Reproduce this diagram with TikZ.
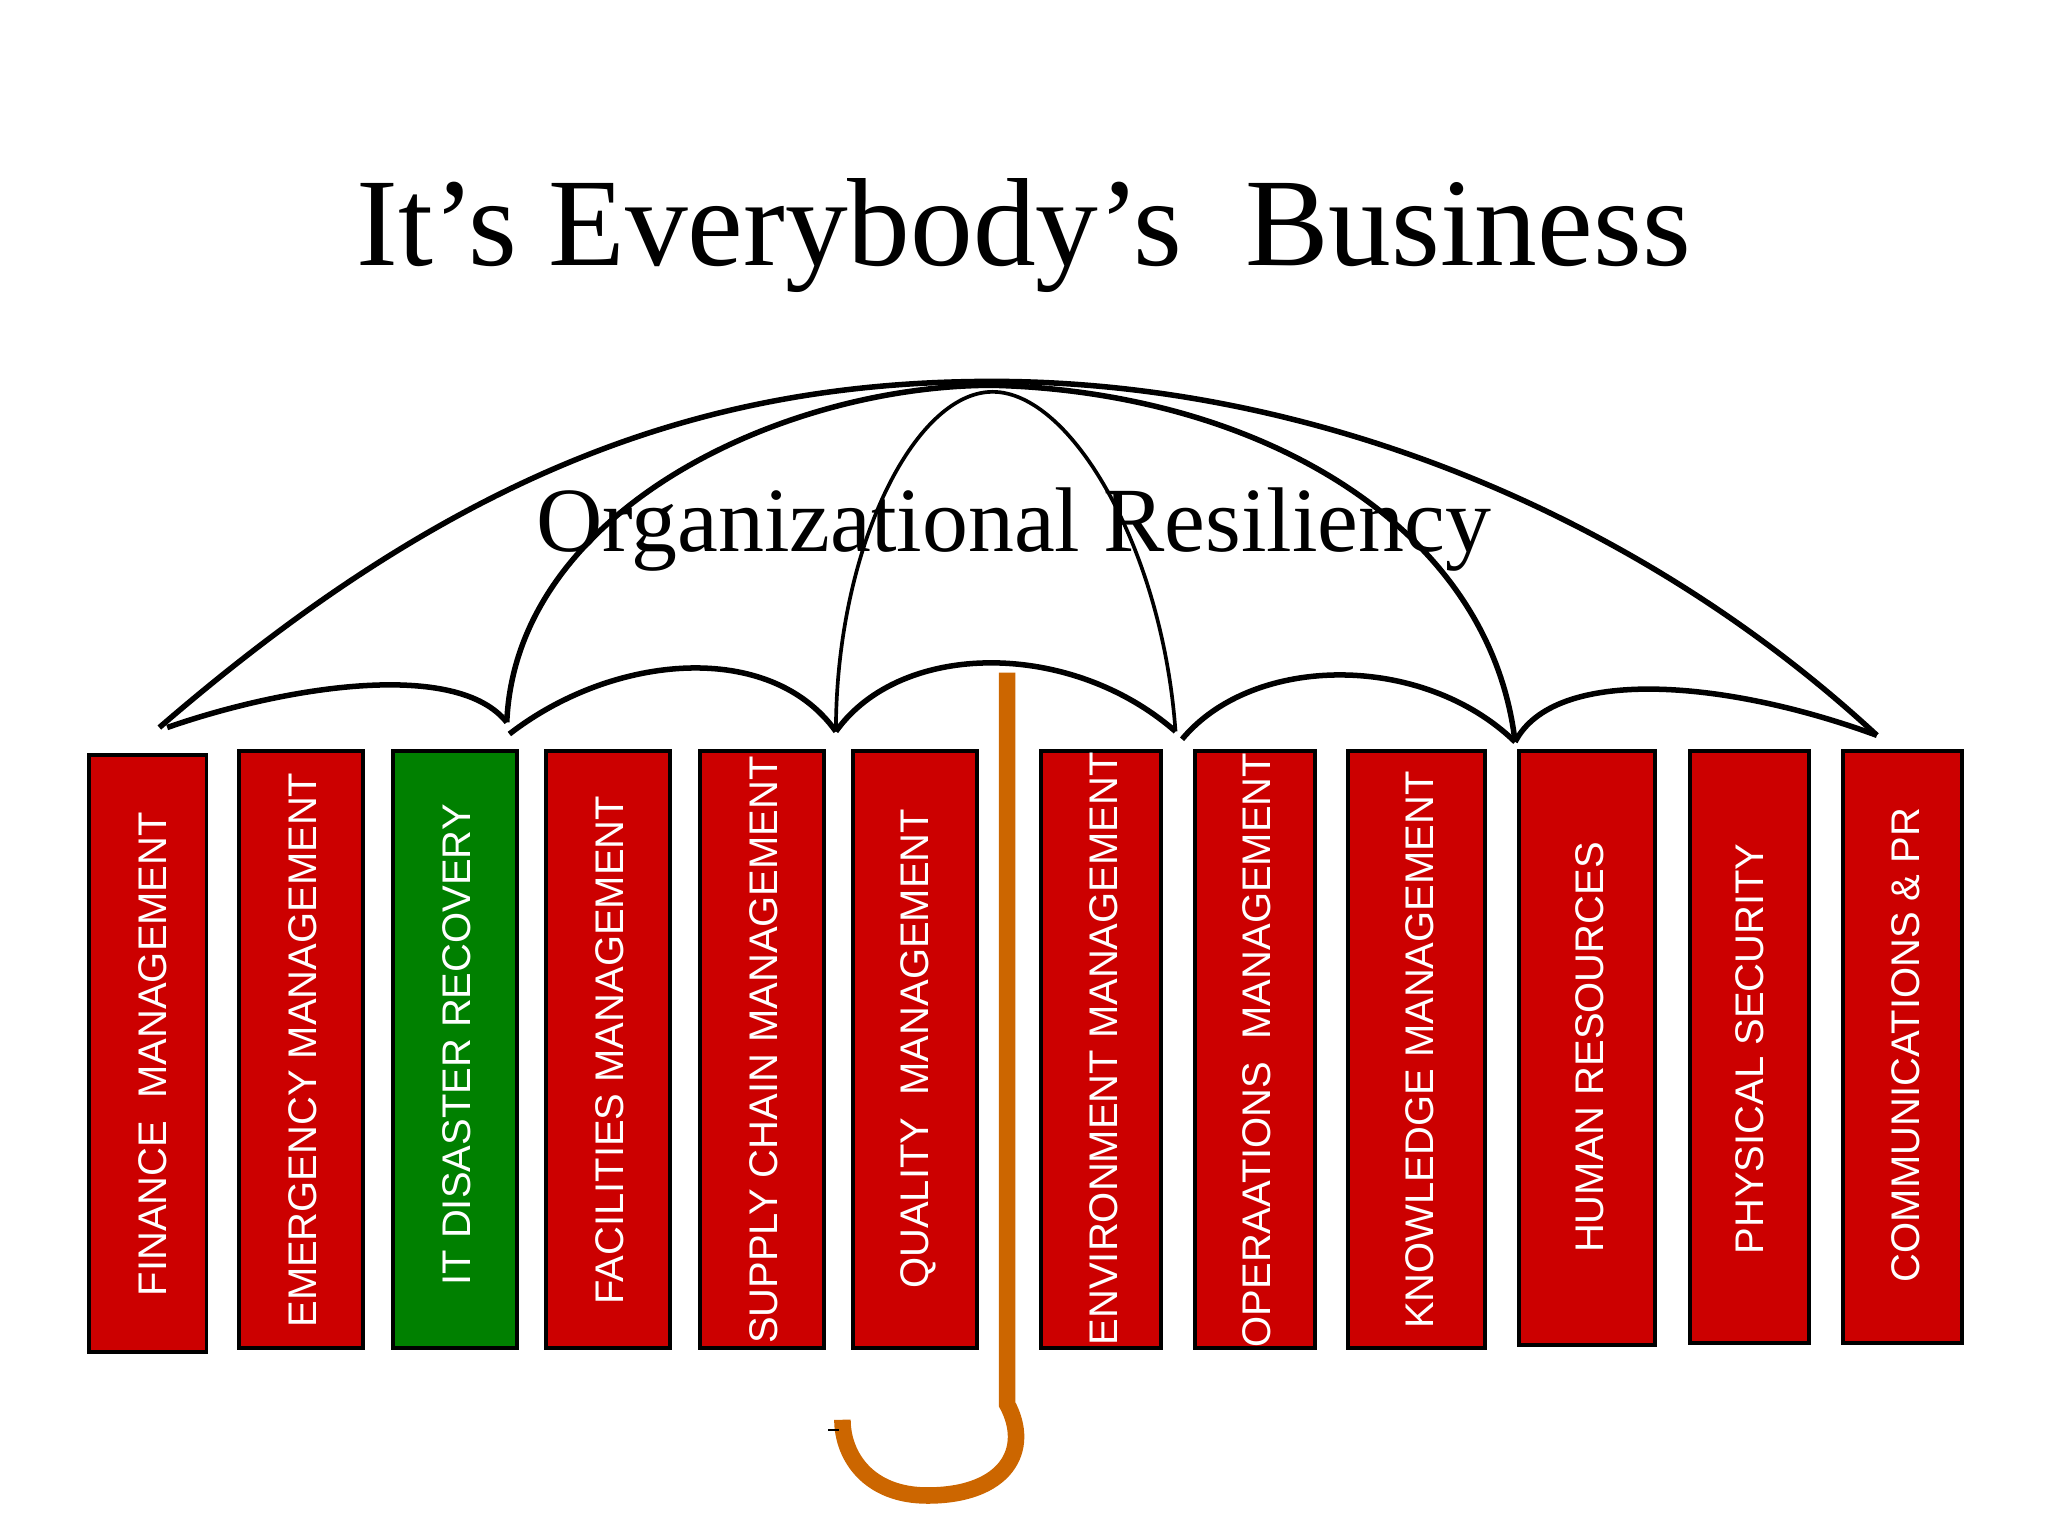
\documentclass[tikz,border=0pt]{standalone}
\usepackage{fontspec}
\setmainfont{Liberation Serif}
\newfontfamily\arialf{Liberation Sans}
\definecolor{boxred}{HTML}{CC0000}
\definecolor{boxgreen}{HTML}{008000}
\definecolor{handle}{HTML}{CC6600}
\begin{document}
\begin{tikzpicture}[x=0.01cm,y=-0.01cm,
  bk/.style={draw=black,line width=0.8pt,fill=boxred},
  lbl/.style={rotate=90,text=white,font=\arialf\fontsize{8.7}{10}\selectfont,inner sep=0pt},
  rib/.style={line width=1.2pt}]
\useasboundingbox (0,0) rectangle (1568,1176);
\node[font=\fontsize{27.3}{32}\selectfont,anchor=base] (title) at (784,203) {It’s Everybody’s\ \ Business};
\node[font=\fontsize{20}{24}\selectfont,anchor=base] (sub) at (776,422) {Organizational Resiliency};
% boxes
\foreach \n/\a/\b/\c/\d in {1/68/578/158/1035,2/183/575/278/1032,4/418/575/513/1032,5/536/575/631/1032,6/653/575/748/1032,7/797/575/889/1032,8/915/575/1007/1032,9/1032/575/1137/1032,10/1163/575/1267/1030,11/1294/575/1385/1028,12/1411/575/1502/1028}
  \draw[bk] (\a,\b) rectangle (\c,\d);
\draw[bk,fill=boxgreen] (301,575) rectangle (396,1032);
\node[lbl] (t1) at (117,807) {FINANCE\ \ MANAGEMENT};
\node[lbl] (t2) at (232,804) {EMERGENCY MANAGEMENT};
\node[lbl] (t3) at (350,800) {IT DISASTER RECOVERY};
\node[lbl] (t4) at (467,804) {FACILITIES MANAGEMENT};
\node[lbl] (t5) at (585,804) {SUPPLY CHAIN MANAGEMENT};
\node[lbl] (t6) at (703,803) {QUALITY\ \ MANAGEMENT};
\node[lbl] (t7) at (845,803) {ENVIRONMENT MANAGEMENT};
\node[lbl] (t8) at (962,804) {OPERAATIONS\ \ MANAGEMENT};
\node[lbl] (t9) at (1087,804) {KNOWLEDGE MANAGEMENT};
\node[lbl] (t10) at (1217,802) {HUMAN RESOURCES};
\node[lbl] (t11) at (1340,803) {PHYSICAL SECURITY};
\node[lbl] (t12) at (1459,800) {COMMUNICATIONS \& PR};
% handle
\draw[handle,line width=3.6pt] (771,515) -- (771,1075) .. controls (790,1110) and (770,1145) .. (710,1145) .. controls (665,1145) and (645,1115) .. (645,1087);
\draw[line width=0.5pt] (634,1095) -- (642,1095);
% umbrella
\draw[rib] (122,557) .. controls (350,360) and (540,292) .. (760,292) .. controls (1000,292) and (1250,390) .. (1437,563);
\draw[rib] (388,553) .. controls (395,390) and (600,295) .. (760,295) .. controls (960,300) and (1140,400) .. (1160,568);
\draw[line width=0.8pt] (640,560) .. controls (640,420) and (700,300) .. (760,300) .. controls (820,300) and (890,420) .. (900,560);
\draw[rib] (128,557) .. controls (220,525) and (350,505) .. (388,553);
\draw[rib] (390,562) .. controls (470,500) and (590,490) .. (640,560);
\draw[rib] (640,560) .. controls (690,490) and (820,490) .. (900,560);
\draw[rib] (905,566) .. controls (960,500) and (1090,500) .. (1160,568);
\draw[rib] (1160,568) .. controls (1190,510) and (1320,520) .. (1437,563);
\end{tikzpicture}
\end{document}
